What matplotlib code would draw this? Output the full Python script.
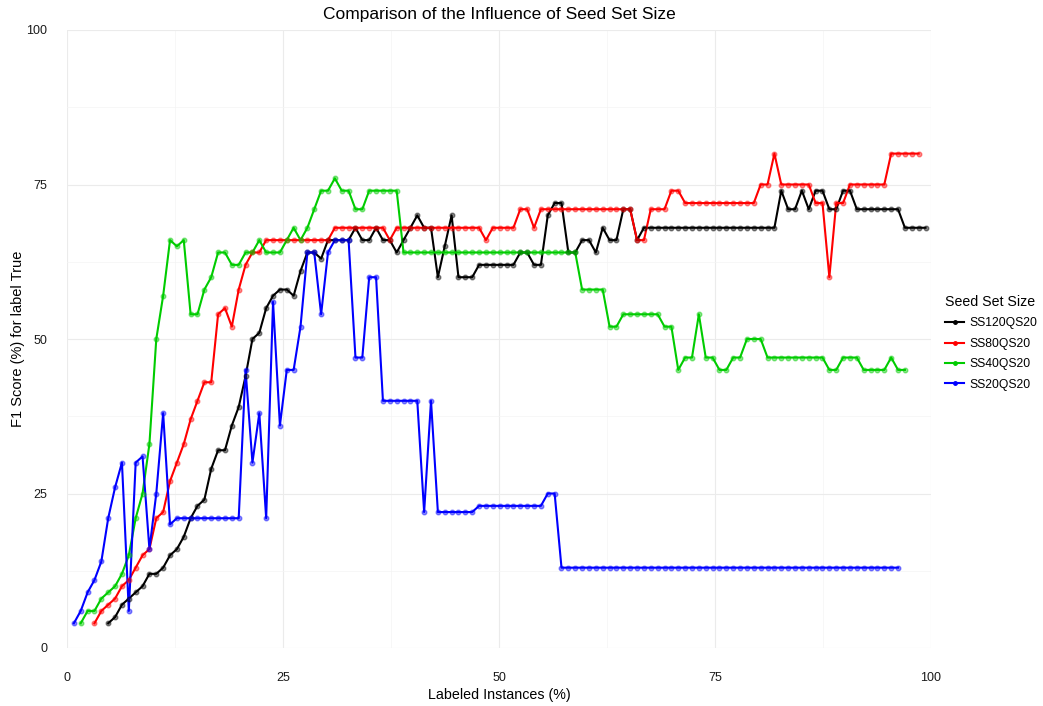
import matplotlib
matplotlib.use('Agg')
import matplotlib.pyplot as plt
from matplotlib.ticker import MultipleLocator

plt.rcParams['font.family'] = ['Liberation Sans', 'DejaVu Sans']

POOL = 2516      # instances in the pool, labeled % = count / POOL
QUERY = 20

series_names = ['SS120QS20', 'SS80QS20', 'SS40QS20', 'SS20QS20']
seed_sizes = [120, 80, 40, 20]
colors = ['#000000', '#FF0000', '#00CC00', '#0000FF']

f1_ss120 = [
    4, 5, 7, 8, 9, 10, 12, 12, 13, 15,
    16, 18, 21, 23, 24, 29, 32, 32, 36, 39,
    44, 50, 51, 55, 57, 58, 58, 57, 61, 64,
    64, 63, 66, 66, 66, 66, 68, 66, 66, 68,
    66, 66, 64, 66, 68, 70, 68, 68, 60, 65,
    70, 60, 60, 60, 62, 62, 62, 62, 62, 62,
    64, 64, 62, 62, 70, 72, 72, 64, 64, 66,
    66, 64, 68, 66, 66, 71, 71, 66, 68, 68,
    68, 68, 68, 68, 68, 68, 68, 68, 68, 68,
    68, 68, 68, 68, 68, 68, 68, 68, 74, 71,
    71, 74, 71, 74, 74, 71, 71, 74, 74, 71,
    71, 71, 71, 71, 71, 71, 68, 68, 68, 68,
]

f1_ss80 = [
    4, 6, 7, 8, 10, 11, 13, 15, 16, 21,
    22, 27, 30, 33, 37, 40, 43, 43, 54, 55,
    52, 58, 62, 64, 64, 66, 66, 66, 66, 66,
    66, 66, 66, 66, 66, 68, 68, 68, 68, 68,
    68, 68, 68, 66, 68, 68, 68, 68, 68, 68,
    68, 68, 68, 68, 68, 68, 68, 66, 68, 68,
    68, 68, 71, 71, 68, 71, 71, 71, 71, 71,
    71, 71, 71, 71, 71, 71, 71, 71, 71, 66,
    66, 71, 71, 71, 74, 74, 72, 72, 72, 72,
    72, 72, 72, 72, 72, 72, 72, 75, 75, 80,
    75, 75, 75, 75, 75, 72, 72, 60, 72, 72,
    75, 75, 75, 75, 75, 75, 80, 80, 80, 80,
    80,
]

f1_ss40 = [
    4, 6, 6, 8, 9, 10, 12, 15, 21, 25,
    33, 50, 57, 66, 65, 66, 54, 54, 58, 60,
    64, 64, 62, 62, 64, 64, 66, 64, 64, 64,
    66, 68, 66, 68, 71, 74, 74, 76, 74, 74,
    71, 71, 74, 74, 74, 74, 74, 64, 64, 64,
    64, 64, 64, 64, 64, 64, 64, 64, 64, 64,
    64, 64, 64, 64, 64, 64, 64, 64, 64, 64,
    64, 64, 64, 58, 58, 58, 58, 52, 52, 54,
    54, 54, 54, 54, 54, 52, 52, 45, 47, 47,
    54, 47, 47, 45, 45, 47, 47, 50, 50, 50,
    47, 47, 47, 47, 47, 47, 47, 47, 47, 45,
    45, 47, 47, 47, 45, 45, 45, 45, 47, 45,
    45,
]

f1_ss20 = [
    4, 6, 9, 11, 14, 21, 26, 30, 6, 30,
    31, 16, 25, 38, 20, 21, 21, 21, 21, 21,
    21, 21, 21, 21, 21, 45, 30, 38, 21, 56,
    36, 45, 45, 52, 64, 64, 54, 64, 66, 66,
    66, 47, 47, 60, 60, 40, 40, 40, 40, 40,
    40, 22, 40, 22, 22, 22, 22, 22, 22, 23,
    23, 23, 23, 23, 23, 23, 23, 23, 23, 25,
    25, 13, 13, 13, 13, 13, 13, 13, 13, 13,
    13, 13, 13, 13, 13, 13, 13, 13, 13, 13,
    13, 13, 13, 13, 13, 13, 13, 13, 13, 13,
    13, 13, 13, 13, 13, 13, 13, 13, 13, 13,
    13, 13, 13, 13, 13, 13, 13, 13, 13, 13,
    13,
]

f1_all = [f1_ss120, f1_ss80, f1_ss40, f1_ss20]

fig = plt.figure(figsize=(10.43, 7.06), dpi=100)
ax = fig.add_axes([67 / 1043, 1 - 648 / 706, 864 / 1043, 618 / 706])

for name, seed, col, f1 in zip(series_names, seed_sizes, colors, f1_all):
    x = [(seed + QUERY * i) * 100 / POOL for i in range(len(f1))]
    ax.plot(x, f1, color=col, linewidth=1.5, label=name, zorder=3)
    ax.plot(x, f1, linestyle='none', marker='o', markersize=3.3,
            markerfacecolor=col, markeredgecolor=col, alpha=0.45, zorder=4)

ax.set_xlim(0, 100)
ax.set_ylim(0, 100)
ax.xaxis.set_major_locator(MultipleLocator(25))
ax.yaxis.set_major_locator(MultipleLocator(25))
ax.xaxis.set_minor_locator(MultipleLocator(12.5))
ax.yaxis.set_minor_locator(MultipleLocator(12.5))
ax.grid(which='major', color='#EBEBEB', linewidth=0.8)
ax.grid(which='minor', color='#F4F4F4', linewidth=0.5)
ax.set_axisbelow(True)
for s in ax.spines.values():
    s.set_visible(False)
ax.tick_params(which='both', length=0)
ax.tick_params(axis='both', labelsize=9, colors='#1a1a1a')
ax.tick_params(axis='x', pad=17)
ax.tick_params(axis='y', pad=14)

ax.set_title('Comparison of the Influence of Seed Set Size', fontsize=12.5, pad=8)
ax.set_xlabel('Labeled Instances (%)', fontsize=10.3, labelpad=3)
ax.set_ylabel('F1 Score (%) for label True', fontsize=10.5, labelpad=1)

handles = [plt.Line2D([], [], color=c, linewidth=1.5, marker='o', markersize=2.5)
           for c in colors]
leg = fig.legend(handles, series_names, title='Seed Set Size', loc='upper left',
                 bbox_to_anchor=(934 / 1043, 1 - 284 / 706), frameon=False,
                 fontsize=8.7, title_fontsize=10.2, handlelength=1.6,
                 labelspacing=0.7, handletextpad=0.45, alignment='left')

fig.savefig('out.png', dpi=100, facecolor='white')
